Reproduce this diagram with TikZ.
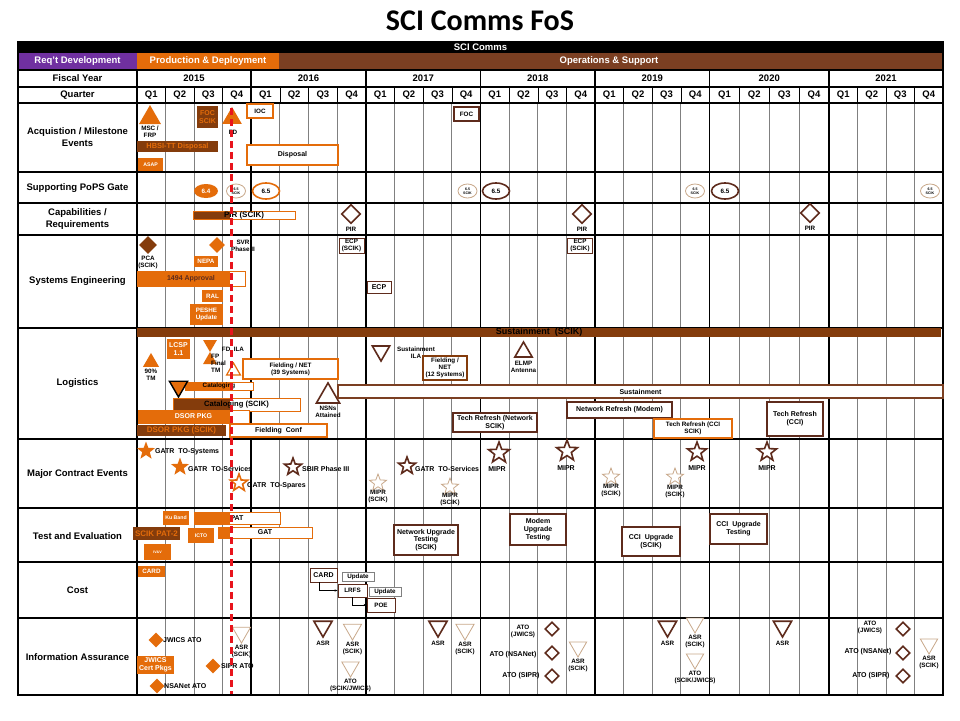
\documentclass[tikz,border=0pt]{standalone}
\usepackage{fontspec}
\setmainfont{Liberation Sans}
\newfontfamily\ttlfont{Carlito}
\usetikzlibrary{positioning,shapes.geometric,arrows.meta}

\definecolor{orng}{HTML}{E46C0A}
\definecolor{dbrn}{HTML}{843C0C}
\definecolor{obrn}{HTML}{7B3F22}
\definecolor{purp}{HTML}{7030A0}
\definecolor{mrk}{HTML}{5E2B1C}
\definecolor{lbrn}{HTML}{C8A88A}
\definecolor{redl}{HTML}{E8141C}
\definecolor{gridg}{HTML}{808080}

\begin{document}
\begin{tikzpicture}[x=1pt,y=-1pt,
  fh/.style={font=\fontsize{9.5}{12}\selectfont\bfseries,align=center,inner sep=0pt},
  fa/.style={font=\fontsize{7}{7.8}\selectfont\bfseries,align=center,inner sep=0pt},
  fb/.style={font=\fontsize{6.3}{7}\selectfont\bfseries,align=center,inner sep=0pt},
  fc/.style={font=\fontsize{5.2}{5.8}\selectfont\bfseries,align=center,inner sep=0pt},
  fd/.style={font=\fontsize{3.6}{4}\selectfont\bfseries,align=center,inner sep=0pt},
  fe/.style={font=\fontsize{8}{9}\selectfont\bfseries,align=center,inner sep=0pt},
  obox/.style={fill=orng,text=white,inner sep=0pt},
  dbox/.style={fill=dbrn,text=orng,inner sep=0pt},
  wbox/.style={draw=#1,fill=white,line width=1.2pt,inner sep=0pt},
  wbox/.default=mrk,
  split/.style 2 args={path picture={\fill[#1] (path picture bounding box.south west) rectangle ([xshift=#2]path picture bounding box.north west);}},
  tup/.style={regular polygon,regular polygon sides=3,inner sep=0pt,minimum size=#1},
  tdn/.style={tup=#1,shape border rotate=180},
  dmd/.style={diamond,inner sep=0pt,minimum width=#1,minimum height=#1},
  strr/.style={star,star points=5,star point ratio=2.4,inner sep=0pt,minimum size=#1},
  dkmk/.style={draw=mrk,fill=white,line width=1.6pt},
  ltmk/.style={draw=lbrn,fill=white,line width=0.8pt},
  pops/.style={ellipse,draw=lbrn,fill=white,line width=0.8pt,fd,minimum width=19,minimum height=14},
  popb/.style={ellipse,draw=#1,fill=white,line width=1.6pt,fb,minimum width=27,minimum height=16},
  tbar/.style={draw=orng,fill=white,line width=0.8pt,inner sep=0pt}]

\fill[white] (0,0) rectangle (960,720);
\useasboundingbox (0,0) rectangle (960,720);

\node[font=\ttlfont\bfseries\fontsize{30}{34}\selectfont] (title) at (480,21) {SCI Comms FoS};

% header bars
\node[fill=black,text=white,fh,minimum width=925,minimum height=12] (prog) at (480.5,47) {SCI Comms};
\node[fill=purp,text=white,fh,minimum width=119,minimum height=17] (reqd) at (77.5,61.5) {Req't Development};
\node[fill=orng,text=white,fh,minimum width=142,minimum height=17] (prod) at (208,61.5) {Production \& Deployment};
\node[fill=obrn,text=white,fh,minimum width=664,minimum height=17] (ops) at (611,61.5) {\hspace*{-4pt}Operations \& Support};

% grid
\foreach \ya/\yb/\yr [count=\i] in {137/251/2015,251/366/2016,366/480.5/2017,480.5/595/2018,595/709.5/2019,709.5/829/2020,829/943/2021} {
  \node[fh] (fy\i) at ({(\ya+\yb)/2},78.5) {\yr};
  \foreach \q in {1,...,4} {
    \pgfmathsetmacro{\xl}{\ya+(\q-1)*(\yb-\ya)/4}
    \pgfmathsetmacro{\xm}{\ya+(\q-0.5)*(\yb-\ya)/4}
    \node[fh] (q\i\q) at (\xm,95) {Q\q};
    \ifnum\q>1
      \draw[gridg,line width=1pt] (\xl,103) -- (\xl,695);
      \draw (\xl,87) -- (\xl,103);
    \fi
  }
  \draw[line width=1.2pt] (\yb,70) -- (\yb,695);
}
\foreach \y in {70,87,103,172,203,235,328,439,508,562,618}
  \draw[line width=1.2pt] (18,\y) -- (943,\y);
\draw[line width=1.2pt] (18,41) -- (18,695) -- (943,695) -- (943,41);
\draw[line width=1.2pt] (137,70) -- (137,695);

% row labels
\node[fh] (lfy) at (77.5,78.5) {Fiscal Year};
\node[fh] (lq) at (77.5,95) {Quarter};
\node[fh] (lacq) at (77.5,137.5) {Acquistion / Milestone\\Events};
\node[fh] (lpops) at (77.5,188) {Supporting PoPS Gate};
\node[fh] (lcap) at (77.5,219) {Capabilities /\\Requirements};
\node[fh] (lse) at (77.5,281) {Systems Engineering};
\node[fh] (llog) at (77.5,383) {Logistics};
\node[fh] (lmce) at (77.5,474) {Major Contract Events};
\node[fh] (lte) at (77.5,536) {Test and Evaluation};
\node[fh] (lcost) at (77.5,590) {Cost};
\node[fh] (lia) at (77.5,657) {Information Assurance};

% acquisition / milestone
\node[tup=25.3,fill=orng] (msc) at (150,117.7) {};
\node[fb,below=1.5pt of msc] (msct) {MSC /\\FRP};
\node[dbox,font=\fontsize{7.4}{8}\selectfont\bfseries,minimum width=81,minimum height=11] (hbsi) at (177.5,146.5) {HBSI-TT Disposal};
\node[obox,fc,minimum width=25,minimum height=13] (asap) at (150.5,164.5) {ASAP};
\node[dbox,fa,align=center,minimum width=21,minimum height=22] (focs) at (207.5,117) {FOC\\SCIK};
\node[tup=22.7,fill=orng] (fdt) at (232,118.3) {};
\node[fb] (fdl) at (233,132) {FD};
\node[wbox=orng,fb,minimum width=26,minimum height=14] (ioc) at (260,111) {IOC};
\node[wbox=orng,fa,minimum width=91,minimum height=20] (disp) at (292.5,155) {Disposal};
\node[wbox,fb,minimum width=25,minimum height=14] (foc) at (466.5,114) {FOC};

% supporting pops gate
\node[ellipse,fill=orng,text=white,fb,minimum width=24,minimum height=14] (g64) at (206,191) {6.4};
\node[pops] (pp1) at (236,191) {6.5\\SCIK};
\node[popb=orng] (g65a) at (266,191) {6.5};
\node[pops] (pp2) at (467.5,191) {6.5\\SCIK};
\node[popb=mrk] (g65b) at (496,191) {6.5};
\node[pops] (pp3) at (695,191) {6.5\\SCIK};
\node[popb=mrk] (g65c) at (725,191) {6.5};
\node[pops] (pp4) at (930,191) {6.5\\SCIK};

% capabilities / requirements
\node[tbar,split={dbrn}{37pt},fe,minimum width=102,minimum height=8] (pir) at (244,215.5) {PIR (SCIK)};
\node[dmd=19,dkmk] (pir1) at (351,214) {};
\node[fb,below=3pt of pir1] (pir1t) {PIR};
\node[dmd=19,dkmk] (pir2) at (582,214) {};
\node[fb,below=3pt of pir2] (pir2t) {PIR};
\node[dmd=19,dkmk] (pir3) at (810,213) {};
\node[fb,below=3pt of pir3] (pir3t) {PIR};

% systems engineering
\node[dmd=18,fill=dbrn] (pca) at (148,245) {};
\node[fb,below=1.5pt of pca] (pcat) {PCA\\(SCIK)};
\node[dmd=16,fill=orng] (svr) at (217,245) {};
\node[fb] (svrt) at (243,246) {SVR\\Phase II};
\node[obox,fb,minimum width=24,minimum height=11] (nepa) at (206,261.5) {NEPA};
\node[tbar,split={orng}{93pt},fa,text=mrk,minimum width=108,minimum height=15] (appr) at (191,278.5) {1494 Approval};
\node[obox,fb,minimum width=21,minimum height=12] (ral) at (212.5,296) {RAL};
\node[obox,fb,align=center,minimum width=33,minimum height=21] (peshe) at (206.5,314.5) {PESHE\\Update};
\node[wbox,line width=0.8pt,fb,minimum width=25,minimum height=15] (ecp1) at (351.5,245.5) {ECP\\(SCIK)};
\node[wbox,line width=0.8pt,fa,minimum width=24,minimum height=12] (ecp2) at (379,287) {ECP};
\node[wbox,line width=0.8pt,fb,minimum width=25,minimum height=15] (ecp3) at (580,245.5) {ECP\\(SCIK)};

% logistics
\node[fill=dbrn,inner sep=0pt,minimum width=804,minimum height=9,font=\fontsize{9}{9}\selectfont\bfseries] (sust) at (539,332.5) {Sustainment\ \ (SCIK)};
\node[tup=18.7,fill=orng] (tm90) at (151,362.3) {};
\node[fb,below=1.5pt of tm90] (tm90t) {90\%\\TM};
\node[obox,fa,align=center,minimum width=23,minimum height=20] (lcsp) at (178.5,349) {LCSP\\1.1};
\node[tdn=16,fill=orng] (hga) at (210,344) {};
\node[tup=16,fill=orng] (hgb) at (210,360) {};
\node[fb] (fdila) at (233,349) {FD\ \ ILA};
\node[fb,align=left,anchor=west] (fpft) at (211,363.5) {FP\\Final\\TM};
\node[tup=16,draw=orng,fill=white,line width=1.2pt] (fptri) at (233.5,371) {};
\node[wbox=orng,fb,minimum width=95,minimum height=20] (fnet39) at (290.5,369) {Fielding / NET\\(39 Systems)};
\node[tbar,split={orng}{45pt},fb,minimum width=68,minimum height=8] (catl) at (219,386) {Cataloging};
\node[tdn=21,fill=orng,draw=black,line width=1.4pt] (catri) at (178.5,386.5) {};
\node[tbar,split={dbrn}{57pt},font=\fontsize{7.6}{8}\selectfont\bfseries,minimum width=127,minimum height=13] (catls) at (236.5,404.5) {Cataloging (SCIK)};
\node[tbar,split={orng}{92pt},fa,text=white,minimum width=111,minimum height=13] (dsor) at (193.5,416.5) {DSOR PKG};
\node[dbox,fe,minimum width=89,minimum height=11] (dsors) at (181.5,430.5) {DSOR PKG (SCIK)};
\node[wbox=orng,fa,minimum width=97,minimum height=13] (fconf) at (278.5,430.5) {Fielding\ \ Conf};
\node[tdn=20,dkmk] (silat) at (381,351) {};
\node[fb] (sila) at (416,353) {Sustainment\\ILA};
\node[wbox=dbrn,fb,minimum width=44,minimum height=24] (fnet12) at (445,368) {Fielding /\\NET\\(12 Systems)};
\node[tup=20,dkmk] (elmpt) at (523.5,352) {};
\node[fb,below=3pt of elmpt] (elmp) {ELMP\\Antenna};
\node[tup=26.7,dkmk] (nsnt) at (328,396.3) {};
\node[fb,below=2.5pt of nsnt] (nsn) {NSNs\\Attained};
\node[wbox=obrn,fa,minimum width=605,minimum height=13] (sust2) at (640.5,391.5) {Sustainment};
\node[wbox,fa,minimum width=84,minimum height=19] (trnet) at (495,422.5) {Tech Refresh (Network\\SCIK)};
\node[wbox,fa,minimum width=105,minimum height=16] (nrm) at (619.5,410) {Network Refresh (Modem)};
\node[wbox=orng,fb,minimum width=78,minimum height=19] (trcs) at (693,428.5) {Tech Refresh (CCI\\SCIK)};
\node[wbox,fa,minimum width=56,minimum height=34] (trc) at (795,419) {Tech Refresh\\(CCI)};

% major contract events
\node[strr=19,fill=orng] (st1) at (146,451) {};
\node[fa,anchor=west] (st1t) at (155,452) {GATR\ \ TO-Systems};
\node[strr=19,fill=orng] (st2) at (180,467) {};
\node[fa,anchor=west] (st2t) at (188,469) {GATR\ \ TO-Services};
\node[strr=18,draw=orng,fill=white,line width=1.6pt] (st3) at (239,483) {};
\node[fa,anchor=west] (st3t) at (247,486) {GATR\ \ TO-Spares};
\node[strr=18,dkmk] (st4) at (293,467) {};
\node[fa,anchor=west] (st4t) at (302,469) {SBIR Phase III};
\node[strr=18,ltmk] (st5) at (378,483) {};
\node[fb] (st5t) at (378,496.5) {MIPR\\(SCIK)};
\node[strr=18,dkmk] (st6) at (407,466) {};
\node[fa,anchor=west] (st6t) at (415,469) {GATR\ \ TO-Services};
\node[strr=18,ltmk] (st7) at (450,487) {};
\node[fb] (st7t) at (450,499.5) {MIPR\\(SCIK)};
\node[strr=22,dkmk] (st8) at (499,453) {};
\node[fa] (st8t) at (497,469) {MIPR};
\node[strr=22,dkmk] (st9) at (567,451) {};
\node[fa] (st9t) at (566,468) {MIPR};
\node[strr=18,ltmk] (st10) at (611,477) {};
\node[fb] (st10t) at (611,490.5) {MIPR\\(SCIK)};
\node[strr=18,ltmk] (st11) at (675,477) {};
\node[fb] (st11t) at (675,491) {MIPR\\(SCIK)};
\node[strr=20,dkmk] (st12) at (697,452) {};
\node[fa] (st12t) at (697,468) {MIPR};
\node[strr=20,dkmk] (st13) at (767,452) {};
\node[fa] (st13t) at (767,468) {MIPR};

% test and evaluation
\node[obox,fc,minimum width=26,minimum height=14] (kub) at (176,518) {Ku Band};
\node[tbar,split={orng}{36pt},fa,minimum width=86,minimum height=12] (pat) at (237,518) {PAT};
\node[dbox,fe,minimum width=47,minimum height=13] (pat2) at (156.5,533.5) {SCIK PAT-2};
\node[obox,fc,minimum width=26,minimum height=15] (icto) at (201,535.5) {ICTO};
\node[tbar,split={orng}{12pt},fa,minimum width=94,minimum height=11] (gat) at (265,532.5) {GAT};
\node[obox,fd,minimum width=27,minimum height=16] (ivv) at (157.5,552) {IV\&V};
\node[wbox,fa,minimum width=64,minimum height=30] (nut) at (426,540) {Network Upgrade\\Testing\\(SCIK)};
\node[wbox,fa,minimum width=56,minimum height=31] (mut) at (538,529.5) {Modem\\Upgrade\\Testing};
\node[wbox,fa,minimum width=58,minimum height=29] (ccis) at (651,541.5) {CCI\ \ Upgrade\\(SCIK)};
\node[wbox,fa,minimum width=57,minimum height=30] (ccit) at (738.5,529) {CCI\ \ Upgrade\\Testing};

% cost
\node[obox,fb,minimum width=27,minimum height=11] (card1) at (151.5,571.5) {CARD};
\node[wbox,line width=0.8pt,fa,minimum width=27,minimum height=14] (card2) at (323.5,575) {CARD};
\node[wbox=gridg,line width=0.6pt,fb,minimum width=32,minimum height=9] (upd1) at (358,576.5) {Update};
\node[wbox,line width=0.8pt,fb,minimum width=29,minimum height=13] (lrfs) at (352.5,590.5) {LRFS};
\node[wbox=gridg,line width=0.6pt,fb,minimum width=32,minimum height=9] (upd2) at (385,591.5) {Update};
\node[wbox,line width=0.8pt,fb,minimum width=28,minimum height=14] (poe) at (381,605) {POE};
\draw[-{Stealth[length=3pt]},line width=0.6pt] ([xshift=-4pt]card2.south) |- (lrfs.west);
\draw[-{Stealth[length=3pt]},line width=0.6pt] (lrfs.south) |- (poe.west);

% information assurance
\node[dmd=15,fill=orng] (jw) at (156,640) {};
\node[fa,anchor=west] (jwt) at (163,640) {JWICS ATO};
\node[obox,fa,align=center,minimum width=37,minimum height=18] (jwcp) at (155.5,665) {JWICS\\Cert Pkgs};
\node[dmd=15,fill=orng] (sp) at (213,666) {};
\node[fa,anchor=west] (spt) at (221,666) {SIPR ATO};
\node[dmd=15,fill=orng] (ns) at (157,686) {};
\node[fa,anchor=west] (nst) at (164,686) {NSANet ATO};
\node[tdn=21,ltmk] (asr1) at (241.5,632.5) {};
\node[fb,below=1.5pt of asr1] (asr1t) {ASR\\(SCIK)};
\node[tdn=21,dkmk] (asr2) at (323,626.5) {};
\node[fb,below=2pt of asr2] (asr2t) {ASR};
\node[tdn=21,ltmk] (asr3) at (352.5,629.5) {};
\node[fb,below=1.5pt of asr3] (asr3t) {ASR\\(SCIK)};
\node[tdn=20,ltmk] (ato1) at (350.5,667) {};
\node[fb,below=1.5pt of ato1] (ato1t) {ATO\\(SCIK/JWICS)};
\node[tdn=21,dkmk] (asr4) at (438,626.5) {};
\node[fb,below=2pt of asr4] (asr4t) {ASR};
\node[tdn=21,ltmk] (asr5) at (465,629.5) {};
\node[fb,below=1.5pt of asr5] (asr5t) {ASR\\(SCIK)};
\node[fb] (atj1) at (523,631) {ATO\\(JWICS)};
\node[dmd=14,dkmk] (atj1d) at (552,629) {};
\node[fa] (atn1) at (513,655) {ATO (NSANet)};
\node[dmd=14,dkmk] (atn1d) at (552,653) {};
\node[fa] (ats1) at (521,676) {ATO (SIPR)};
\node[dmd=14,dkmk] (ats1d) at (552,676) {};
\node[tdn=20,ltmk] (asr6) at (578,647) {};
\node[fb,below=1.5pt of asr6] (asr6t) {ASR\\(SCIK)};
\node[tdn=21,dkmk] (asr7) at (667.5,626.5) {};
\node[fb,below=2pt of asr7] (asr7t) {ASR};
\node[tdn=20,ltmk] (asr8) at (695,623) {};
\node[fb,below=1.5pt of asr8] (asr8t) {ASR\\(SCIK)};
\node[tdn=20,ltmk] (ato2) at (695,659) {};
\node[fb,below=1.5pt of ato2] (ato2t) {ATO\\(SCIK/JWICS)};
\node[tdn=21,dkmk] (asr9) at (782.5,626.5) {};
\node[fb,below=2pt of asr9] (asr9t) {ASR};
\node[fb] (atj2) at (870,627.5) {ATO\\(JWICS)};
\node[dmd=14,dkmk] (atj2d) at (903,629) {};
\node[fa] (atn2) at (868,652) {ATO (NSANet)};
\node[dmd=14,dkmk] (atn2d) at (903,653) {};
\node[fa] (ats2) at (871,676) {ATO (SIPR)};
\node[dmd=14,dkmk] (ats2d) at (903,676) {};
\node[tdn=20,ltmk] (asr10) at (929,644) {};
\node[fb,below=1.5pt of asr10] (asr10t) {ASR\\(SCIK)};

% today line
\draw[redl,line width=2.6pt,dash pattern=on 7pt off 4pt] (231.5,108) -- (231.5,694);

\end{tikzpicture}
\end{document}
